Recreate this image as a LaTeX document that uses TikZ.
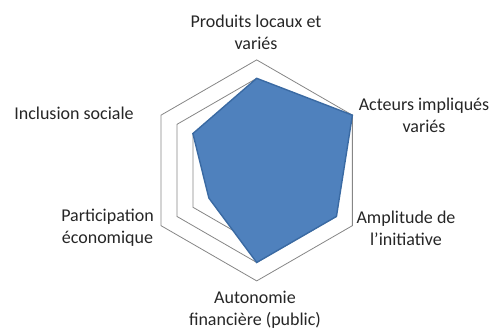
\documentclass[tikz,border=0pt]{standalone}
\usepackage{fontspec}
\setmainfont{Carlito}
\usetikzlibrary{calc}
\definecolor{gridgray}{HTML}{868686}
\definecolor{seriesfill}{HTML}{4F81BD}
\definecolor{seriesedge}{HTML}{3A6AA3}
\tikzset{
  ring/.style={draw=gridgray, line width=0.8pt, line join=miter},
  series/.style={fill=seriesfill, draw=seriesedge, line width=1.4pt, line join=miter},
  axislabel/.style={font=\fontsize{18}{22}\selectfont, align=center, inner sep=0pt, text=black!85}
}
\begin{document}
\begin{tikzpicture}[x=1pt,y=1pt]
\useasboundingbox (0,0) rectangle (493,-329);
\coordinate (c) at (256.7,-170.4);
\def\R{110.5}
% grid rings
\foreach \k in {4,5,6}{
  \draw[ring] ($(c)+(90:\k*\R/6)$) -- ($(c)+(30:\k*\R/6)$) -- ($(c)+(-30:\k*\R/6)$)
    -- ($(c)+(-90:\k*\R/6)$) -- ($(c)+(210:\k*\R/6)$) -- ($(c)+(150:\k*\R/6)$) -- cycle;
}
% data series: 5,6,5,5,3,4 on 0..6
\draw[series] ($(c)+(90:5*\R/6)$) -- ($(c)+(30:6*\R/6)$) -- ($(c)+(-30:5*\R/6)$)
    -- ($(c)+(-90:5*\R/6)$) -- ($(c)+(210:3*\R/6)$) -- ($(c)+(150:4*\R/6)$) -- cycle;
% labels
\node[axislabel] (l1) at (256,-32) {Produits locaux et\\variés};
\node[axislabel] (l2) at (424,-115) {Acteurs impliqués\\variés};
\node[axislabel] (l3) at (406,-228) {Amplitude de\\l’initiative};
\node[axislabel] (l4) at (255,-309.5) {Autonomie\\financière (public)};
\node[axislabel] (l5) at (107.5,-228) {Participation\\économique};
\node[axislabel] (l6) at (74,-113) {Inclusion sociale};
\end{tikzpicture}
\end{document}
